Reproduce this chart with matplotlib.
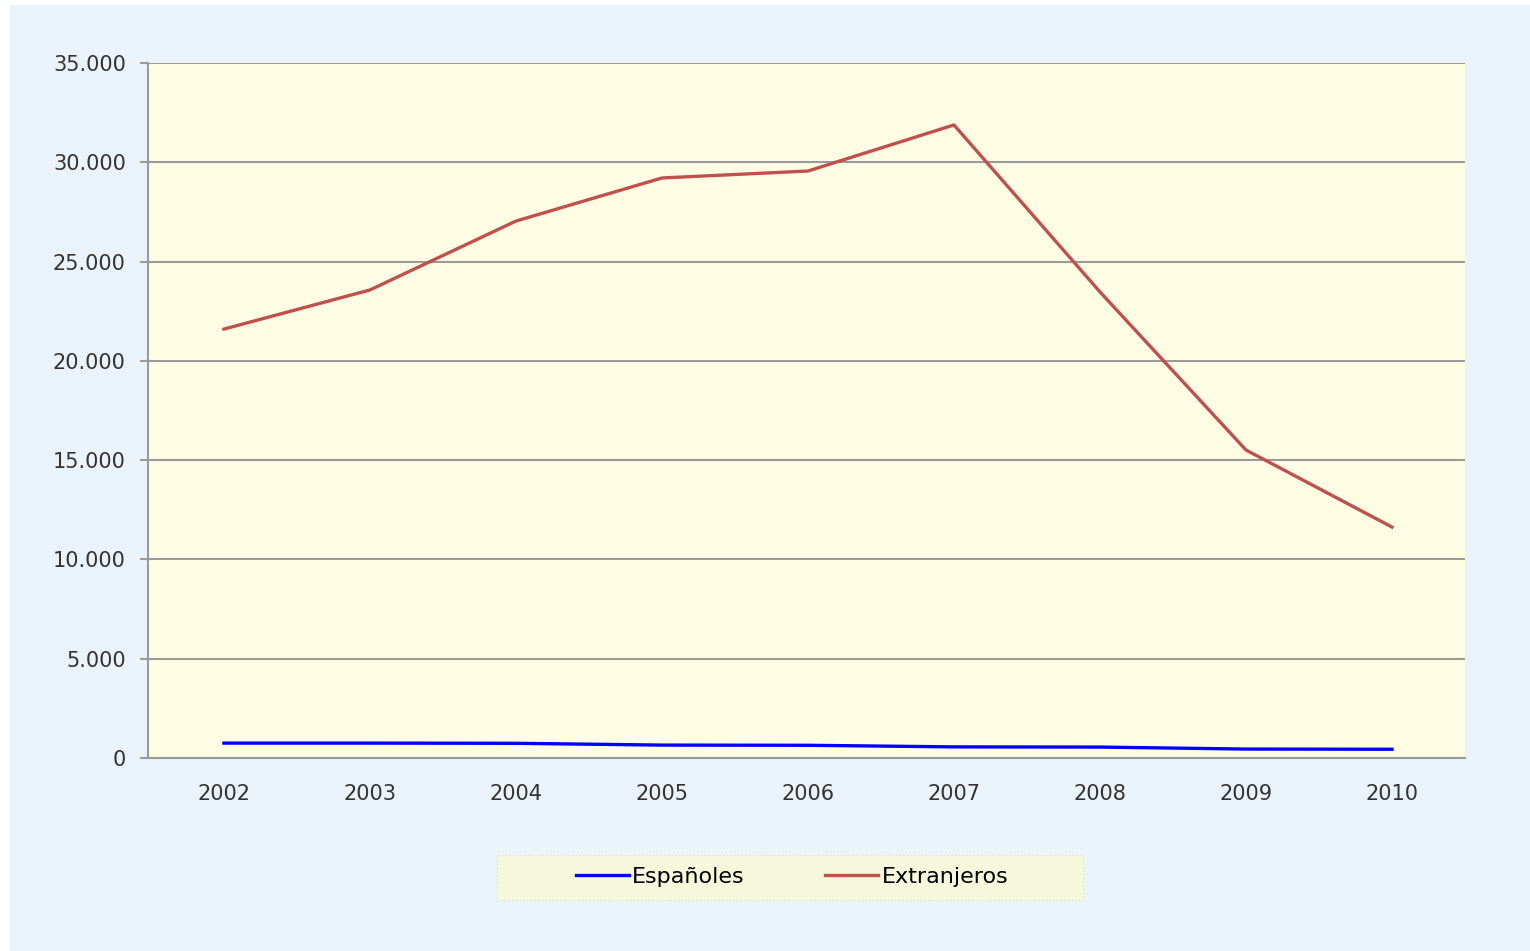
import matplotlib.pyplot as plt
from matplotlib.patches import Rectangle
from matplotlib.ticker import FuncFormatter

# The data
years = ["2002", "2003", "2004", "2005", "2006", "2007", "2008", "2009", "2010"]
espanoles = [750, 750, 740, 650, 640, 560, 550, 450, 440]
extranjeros = [21600, 23570, 27040, 29210, 29560, 31880, 23470, 15510, 11630]

fig = plt.figure(figsize=(15.3, 9.51), dpi=100)
fig.patch.set_facecolor("white")

# light blue panel behind everything
fig.patches.append(Rectangle((10 / 1530, 0), 1 - 10 / 1530, 1 - 5 / 951,
                             transform=fig.transFigure, facecolor="#EBF3FA",
                             edgecolor="none", zorder=-2))
# legend box
fig.patches.append(Rectangle((497 / 1530, 1 - 900 / 951), (1083 - 497) / 1530, 45 / 951,
                             transform=fig.transFigure, facecolor="#F6F8DC",
                             edgecolor="#E4E6CC", linestyle=":", linewidth=1,
                             zorder=-1))

ax = fig.add_axes([148 / 1530, 1 - 758 / 951, (1465 - 148) / 1530, (758 - 63) / 951])
ax.set_facecolor("#FFFEE5")

x = range(len(years))
ax.plot(x, espanoles, color="#0000FF", linewidth=2.4, label="Españoles")
ax.plot(x, extranjeros, color="#C0504D", linewidth=2.4, label="Extranjeros")

ax.set_xlim(-0.52, 8.5)
ax.set_ylim(0, 35000)
ax.set_yticks(range(0, 35001, 5000))
ax.yaxis.set_major_formatter(FuncFormatter(lambda v, p: f"{int(v):,}".replace(",", ".")))
ax.set_xticks(list(x))
ax.set_xticklabels(years)

ax.grid(axis="y", color="#9A9A9A", linewidth=1.5)
ax.set_axisbelow(True)
for s in ["top", "right"]:
    ax.spines[s].set_visible(False)
ax.spines["left"].set_color("#9A9A9A")
ax.spines["left"].set_linewidth(1.5)
ax.spines["bottom"].set_color("#9A9A9A")
ax.spines["bottom"].set_linewidth(1.5)
ax.tick_params(axis="y", length=6, color="#9A9A9A", width=1.5, labelsize=15,
               labelcolor="#333333", pad=10)
ax.tick_params(axis="x", length=0, labelsize=15, labelcolor="#333333", pad=19)

leg = fig.legend(loc="center", bbox_to_anchor=(792 / 1530, 1 - 877 / 951), ncol=2,
                 fontsize=16, frameon=False, handlelength=2.4,
                 handletextpad=0.15, columnspacing=3.6)

fig.savefig("out.png", dpi=100)
